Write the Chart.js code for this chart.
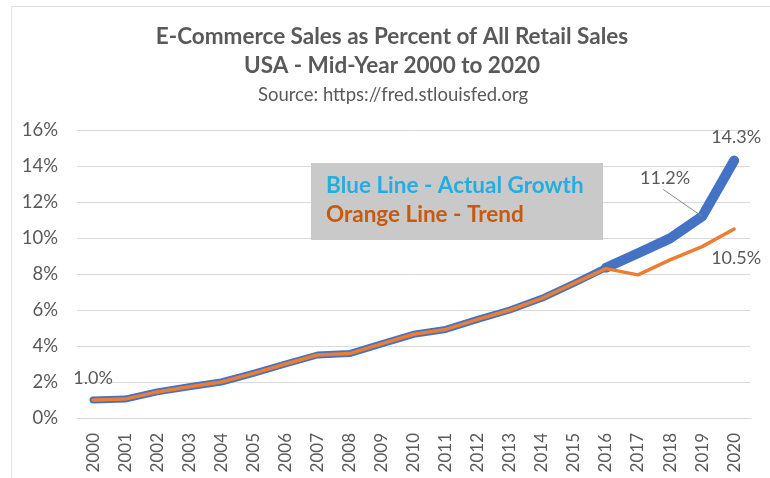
<!DOCTYPE html>
<html>
<head>
<meta charset="utf-8">
<script src="https://cdn.jsdelivr.net/npm/chart.js@4/dist/chart.umd.min.js"></script>
<style>
html,body{margin:0;padding:0;background:#fff;}
#wrap{position:relative;width:770px;height:478px;}
</style>
</head>
<body>
<div id="wrap"><canvas id="c" width="770" height="478"></canvas></div>
<script>
const years = ['2000','2001','2002','2003','2004','2005','2006','2007','2008','2009','2010','2011','2012','2013','2014','2015','2016','2017','2018','2019','2020'];
const actualGrowth = [1.0,1.05,1.45,1.74,2.0,2.48,3.0,3.5,3.58,4.12,4.65,4.92,5.48,6.0,6.65,7.48,8.35,9.15,9.98,11.2,14.3];
const trend        = [1.0,1.05,1.45,1.74,2.0,2.48,3.0,3.5,3.58,4.12,4.65,4.92,5.48,6.0,6.65,7.48,8.3,7.95,8.78,9.52,10.5];
const yTicks = [0,2,4,6,8,10,12,14,16];
const titleLines = ['E-Commerce Sales as Percent of All Retail Sales','USA - Mid-Year 2000 to 2020'];
const sourceLine = 'Source: https://fred.stlouisfed.org';
const legendLines = [['Blue Line - Actual Growth','#26ADE0'],['Orange Line - Trend','#C55A11']];

const FONT = 'Lato, "Open Sans", sans-serif';
const GREY = '#595959';

const decor = {
  id:'decor',
  beforeDraw(chart){
    const c = chart.ctx;
    c.save();
    c.fillStyle='#fff';
    c.fillRect(0,0,chart.width,chart.height);
    c.strokeStyle='#E3E3E3';
    c.lineWidth=1;
    c.beginPath();
    c.moveTo(11.5,478); c.lineTo(11.5,6.5); c.lineTo(770,6.5);
    c.stroke();
    c.restore();
  },
  afterDraw(chart){
    const c = chart.ctx;
    const xs = chart.scales.x, ys = chart.scales.y;
    c.save();
    c.fillStyle = GREY;
    c.textAlign='center';
    c.textBaseline='middle';
    c.font = 'bold 22.5px '+FONT;
    c.fillText(titleLines[0], 392, 37);
    c.fillText(titleLines[1], 392, 66);
    c.font = '18.5px '+FONT;
    c.fillText(sourceLine, 393, 95);

    // legend box
    c.fillStyle='#C9C9C9';
    c.fillRect(311,163,292,77);
    c.textAlign='left';
    c.font='bold 22.5px '+FONT;
    legendLines.forEach((l,i)=>{
      c.fillStyle=l[1];
      c.fillText(l[0],326,186+i*29);
    });

    // data labels
    c.fillStyle=GREY;
    c.font='18px '+FONT;
    c.textAlign='center';
    const last = years.length-1;
    const fmt = v => v.toFixed(1)+'%';
    let px = xs.getPixelForValue(0), py = ys.getPixelForValue(actualGrowth[0]);
    c.fillText(fmt(actualGrowth[0]), px, py-22);
    px = xs.getPixelForValue(last); py = ys.getPixelForValue(actualGrowth[last]);
    c.fillText(fmt(actualGrowth[last]), px+2, py-23);
    const p19x = xs.getPixelForValue(last-1), p19y = ys.getPixelForValue(actualGrowth[last-1]);
    c.fillText(fmt(actualGrowth[last-1]), p19x-37, p19y-38);
    c.strokeStyle='#8C8C8C'; c.lineWidth=1;
    c.beginPath(); c.moveTo(p19x-39, p19y-27); c.lineTo(p19x, p19y); c.stroke();
    px = xs.getPixelForValue(last); py = ys.getPixelForValue(trend[last]);
    c.fillText(fmt(trend[last]), px+2, py+29);
    c.restore();
  }
};

new Chart(document.getElementById('c'), {
  type:'line',
  data:{
    labels: years,
    datasets:[
      {label:'Trend', data: trend, borderColor:'#ED7D31', borderWidth:3.5, pointRadius:0, tension:0, fill:false, order:0, borderJoinStyle:'round', borderCapStyle:'round'},
      {label:'Actual Growth', data: actualGrowth, borderColor:'#4472C4', borderWidth:7, pointRadius:0, tension:0, fill:false, order:1, borderJoinStyle:'round', borderCapStyle:'round',
       segment:{borderWidth: ctx => ctx.p0DataIndex >= 16 ? 10 : 7}}
    ]
  },
  options:{
    responsive:false,
    animation:false,
    devicePixelRatio:1,
    layout:{padding:{top:130,right:18,left:0,bottom:0}},
    plugins:{legend:{display:false},title:{display:false},tooltip:{enabled:false}},
    scales:{
      x:{
        offset:true,
        grid:{display:false, drawTicks:false},
        border:{display:true,color:'#D9D9D9',width:1},
        ticks:{color:GREY, font:{family:FONT,size:17}, minRotation:90, maxRotation:90, padding:15, autoSkip:false},
        afterFit(s){ s.height = 60; }
      },
      y:{
        min:0,max:16,
        afterBuildTicks(s){ s.ticks = yTicks.map(v=>({value:v})); },
        grid:{color:'#D9D9D9', drawTicks:false},
        border:{display:false},
        ticks:{color:GREY, font:{family:FONT,size:18.5}, padding:19, callback:v=>v+'%'},
        afterFit(s){ s.width = 77; }
      }
    }
  },
  plugins:[decor]
});
</script>
</body>
</html>
